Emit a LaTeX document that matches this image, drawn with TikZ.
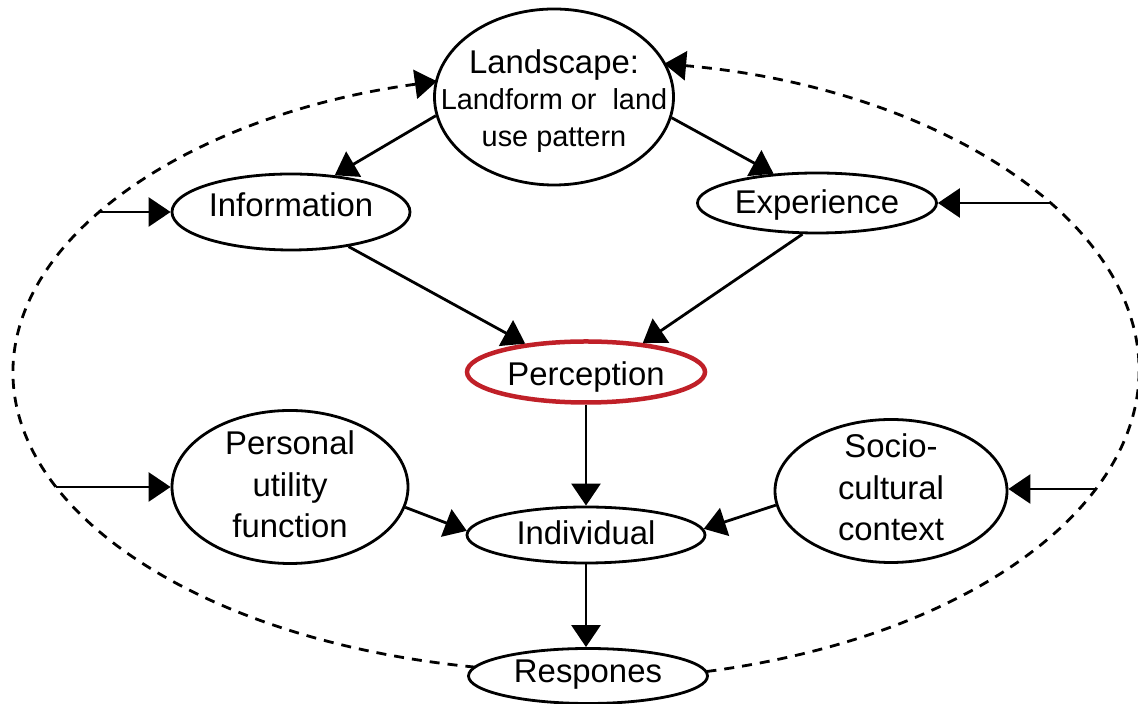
\documentclass[tikz,border=0pt]{standalone}
\usepackage{fontspec}
\setmainfont{Liberation Sans}
\usetikzlibrary{shapes.geometric,arrows.meta,calc}
\definecolor{percred}{RGB}{192,32,40}
\begin{document}
\begin{tikzpicture}[x=1bp,y=1bp,
  bub/.style={ellipse, draw, line width=2.8bp, inner sep=0pt},
  txt/.style={font=\fontsize{33}{41.5}\selectfont, align=center, inner sep=0pt},
  conn/.style={line width=2.8bp, -{Triangle[length=22bp,width=29bp]}},
  dashline/.style={line width=2.8bp, dash pattern=on 10bp off 8bp, -{Triangle[length=22bp,width=29bp]}}]
\path[use as bounding box, fill=white] (0,0) rectangle (1138,704);

\node[bub, minimum width=239bp, minimum height=176bp,
  label={[txt, font=\fontsize{29}{37}\selectfont, yshift=-4bp]center:{\fontsize{33}{37}\selectfont Landscape:}\\Landform or\ \ land\\use pattern}] (land) at (554,607) {};
\node[bub, minimum width=238bp, minimum height=76bp, label={[txt,yshift=7bp]center:Information}] (info) at (291,492) {};
\node[bub, minimum width=239bp, minimum height=60bp, label={[txt,yshift=-2bp]center:Experience}] (exp) at (817,501) {};
\node[bub, draw=percred, line width=4.5bp, minimum width=238bp, minimum height=61bp, label={[txt,yshift=-5bp]center:Perception}] (perc) at (586,332) {};
\node[bub, minimum width=236bp, minimum height=153bp, label={[txt,yshift=2.5bp]center:Personal\\utility\\function}] (pers) at (290,217) {};
\node[bub, minimum width=238bp, minimum height=56bp, label={[txt,yshift=2bp]center:Individual}] (indiv) at (586,169) {};
\node[bub, minimum width=232bp, minimum height=143bp, label={[txt,yshift=3.5bp]center:Socio-\\cultural\\context}] (socio) at (891,213) {};
\node[bub, minimum width=239bp, minimum height=55bp, label={[txt,yshift=1bp]center:Respones}] (resp) at (588,28) {};

% centres of the two halves of the dashed loop
\coordinate (ctrL) at (576,332);
\coordinate (ctrR) at (576,334);
% free ends of the incoming arrows, on the dashed loop
\coordinate (inInfo) at (100,492);
\coordinate (inExp) at (1050,501);
\coordinate (inPers) at (56,217);
\coordinate (inSocio) at (1096,215);

\draw[conn] (land.189) -- (info.40);
\draw[conn] (land.-10) -- (exp.146);
\draw[conn] (info.-31) -- (perc.155);
\draw[conn] (exp.-115) -- (perc.27);
\draw[conn] (perc.south) -- (indiv.north);
\draw[conn] (pers.-10) -- (indiv.178);
\draw[conn] (socio.187) -- (indiv.3);
\draw[conn] (indiv.south) -- (indiv.south |- resp.north);
\draw[conn] (inInfo) -- (info.west);
\draw[conn] (inExp) -- (exp.east);
\draw[conn] (inPers) -- (pers.west);
\draw[conn] (inSocio) -- (inSocio -| socio.east);

\draw[dashline] ($(ctrL)+(259.7:563bp and 300bp)$) arc[start angle=259.7, end angle=104.3, x radius=563bp, y radius=300bp];
\draw[dashline] ($(ctrR)+(-76.6:563bp and 310bp)$) arc[start angle=-76.6, end angle=81, x radius=563bp, y radius=310bp];
\end{tikzpicture}
\end{document}
